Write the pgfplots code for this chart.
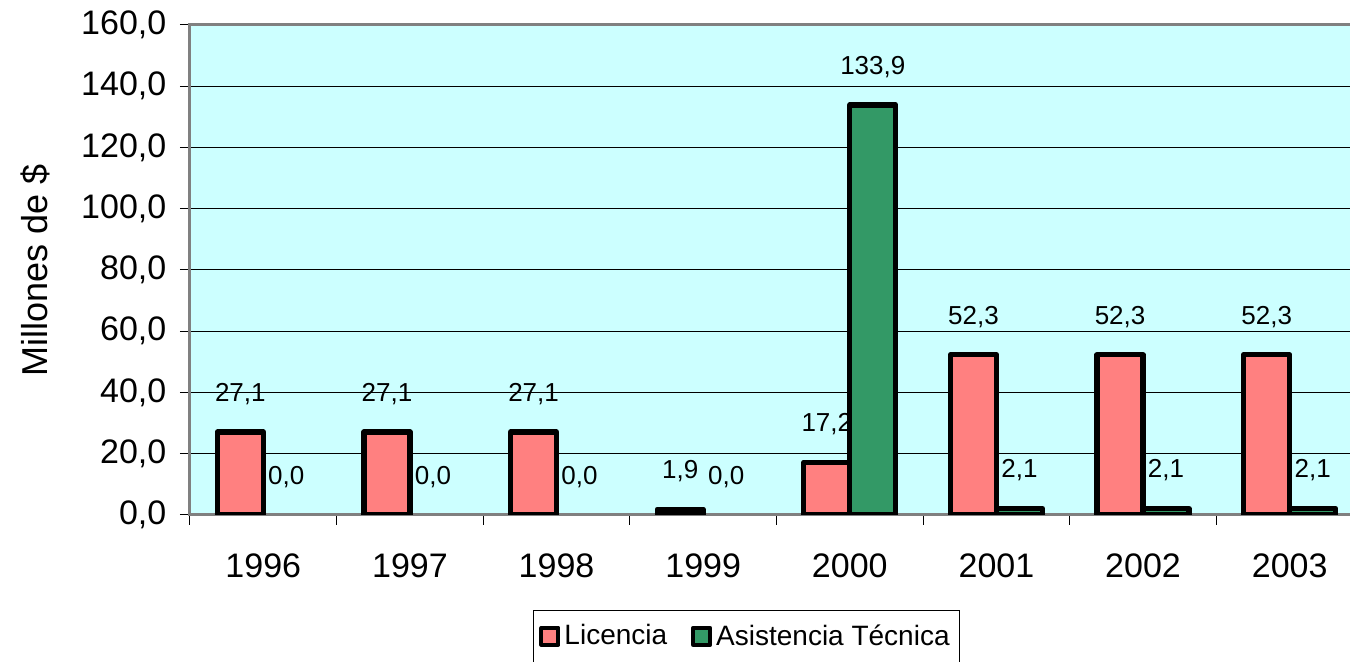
\documentclass[border=0pt]{standalone}
\usepackage{fontspec}
\setmainfont{Liberation Sans}
\usepackage{pgfplots}
\pgfplotsset{compat=1.18}
\definecolor{lic}{HTML}{FF8080}
\definecolor{asis}{HTML}{339966}
\definecolor{bgc}{HTML}{CCFFFF}
\begin{document}
\begin{tikzpicture}
\begin{axis}[
  at={(0,0)}, anchor=south west,
  scale only axis, width=586.5pt, height=245pt,
  xmin=-0.5, xmax=7.5, ymin=0, ymax=160,
  axis background/.style={fill=bgc},
  axis line style={draw=gray, line width=1.5pt},
  ybar=0pt, bar width=23pt,
  ytick={0,20,...,160},
  ymajorgrids, grid style={black, line width=0.5pt},
  xtick={0,...,7},
  xticklabels={1996,1997,1998,1999,2000,2001,2002,2003},
  minor xtick={-0.5,0.5,...,7.5},
  major x tick style={draw=none},
  minor x tick style={black, line width=0.5pt},
  y tick style={black, line width=0.5pt},
  xtick pos=left, ytick pos=left,
  tick align=outside, major tick length=5pt, minor tick length=5pt,
  tick label style={font=\fontsize{17}{20}\selectfont},
  xticklabel style={anchor=center, yshift=-20.5pt},
  yticklabel style={xshift=-3.3pt},
  ylabel={Millones de \$},
  ylabel style={at={(axis description cs:-0.1321,0.5)}, anchor=center, font=\fontsize{18}{21}\selectfont},
  nodes near coords,
  every node near coord/.append style={anchor=center, yshift=19pt, text=black, font=\fontsize{13}{15}\selectfont},
  legend style={at={(axis description cs:0.2924,-0.1939)}, anchor=north west, draw=black, line width=0.5pt,
    fill=white, font=\fontsize{14}{16}\selectfont, legend columns=2, inner ysep=5pt, inner xsep=3pt,
    /tikz/every even column/.append style={column sep=10pt}},
  legend cell align=left,
  /pgf/number format/fixed,
  /pgf/number format/fixed zerofill,
  /pgf/number format/precision=1,
  /pgf/number format/use comma,
  /pgf/number format/assume math mode=true,
]
\addplot[fill=lic, draw=black, line width=2.6pt, line join=round, bar shift=-11.5pt,
  legend image code/.code={\draw[fill=lic, draw=black, line width=2pt, line join=round] (0pt,-4.25pt) rectangle (8.5pt,4.25pt);}]
  coordinates {(0,27.1) (1,27.1) (2,27.1) (3,1.9) (4,17.2) (5,52.3) (6,52.3) (7,52.3)};
\addlegendentry{Licencia}
\addplot[fill=asis, draw=black, line width=2.6pt, line join=round, bar shift=11.5pt,
  legend image code/.code={\draw[fill=asis, draw=black, line width=2pt, line join=round] (0pt,-4.25pt) rectangle (8.5pt,4.25pt);}]
  coordinates {(4,133.9) (5,2.1) (6,2.1) (7,2.1)};
\addlegendentry{Asistencia Técnica}
% zero values: no visible bar, only the label
\addplot[draw=none, fill=none, bar shift=11.5pt, forget plot]
  coordinates {(0,0) (1,0) (2,0) (3,0)};
\end{axis}
\pgfresetboundingbox
\useasboundingbox (-95pt,-73.5pt) rectangle (580pt,257.5pt);
\end{tikzpicture}
\end{document}
